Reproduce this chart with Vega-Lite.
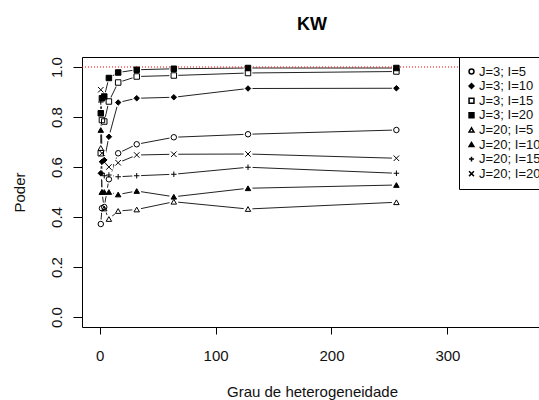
{
  "$schema": "https://vega.github.io/schema/vega-lite/v6.json",
  "autosize": "none",
  "padding": {"left": 82, "top": 57, "right": 0, "bottom": 73},
  "width": 460,
  "height": 270,
  "title": {"text": "KW", "fontSize": 18, "fontWeight": "bold", "font": "Liberation Sans", "color": "black", "anchor": "middle", "frame": "group", "baseline": "alphabetic", "offset": 9},
  "config": {
    "view": {"stroke": "black", "strokeWidth": 1},
    "font": "Liberation Sans",
    "axis": {"grid": false, "domain": false, "tickColor": "black", "labelColor": "#111", "titleColor": "#111", "labelFont": "Liberation Sans", "titleFont": "Liberation Sans", "labelFontSize": 15, "titleFontSize": 15, "titleFontWeight": "normal"}
  },
  "data": {"values": [
    {"grau": 1, "poder": 0.372, "serie": "J=3; I=5"},
    {"grau": 2, "poder": 0.435, "serie": "J=3; I=5"},
    {"grau": 4, "poder": 0.44, "serie": "J=3; I=5"},
    {"grau": 8, "poder": 0.551, "serie": "J=3; I=5"},
    {"grau": 16, "poder": 0.655, "serie": "J=3; I=5"},
    {"grau": 32, "poder": 0.691, "serie": "J=3; I=5"},
    {"grau": 64, "poder": 0.719, "serie": "J=3; I=5"},
    {"grau": 128, "poder": 0.731, "serie": "J=3; I=5"},
    {"grau": 256, "poder": 0.748, "serie": "J=3; I=5"},
    {"grau": 1, "poder": 0.575, "serie": "J=3; I=10"},
    {"grau": 2, "poder": 0.621, "serie": "J=3; I=10"},
    {"grau": 4, "poder": 0.628, "serie": "J=3; I=10"},
    {"grau": 8, "poder": 0.721, "serie": "J=3; I=10"},
    {"grau": 16, "poder": 0.858, "serie": "J=3; I=10"},
    {"grau": 32, "poder": 0.875, "serie": "J=3; I=10"},
    {"grau": 64, "poder": 0.879, "serie": "J=3; I=10"},
    {"grau": 128, "poder": 0.914, "serie": "J=3; I=10"},
    {"grau": 256, "poder": 0.915, "serie": "J=3; I=10"},
    {"grau": 1, "poder": 0.655, "serie": "J=3; I=15"},
    {"grau": 2, "poder": 0.788, "serie": "J=3; I=15"},
    {"grau": 4, "poder": 0.782, "serie": "J=3; I=15"},
    {"grau": 8, "poder": 0.862, "serie": "J=3; I=15"},
    {"grau": 16, "poder": 0.938, "serie": "J=3; I=15"},
    {"grau": 32, "poder": 0.962, "serie": "J=3; I=15"},
    {"grau": 64, "poder": 0.966, "serie": "J=3; I=15"},
    {"grau": 128, "poder": 0.976, "serie": "J=3; I=15"},
    {"grau": 256, "poder": 0.982, "serie": "J=3; I=15"},
    {"grau": 1, "poder": 0.815, "serie": "J=3; I=20"},
    {"grau": 2, "poder": 0.875, "serie": "J=3; I=20"},
    {"grau": 4, "poder": 0.882, "serie": "J=3; I=20"},
    {"grau": 8, "poder": 0.956, "serie": "J=3; I=20"},
    {"grau": 16, "poder": 0.978, "serie": "J=3; I=20"},
    {"grau": 32, "poder": 0.989, "serie": "J=3; I=20"},
    {"grau": 64, "poder": 0.993, "serie": "J=3; I=20"},
    {"grau": 128, "poder": 0.996, "serie": "J=3; I=20"},
    {"grau": 256, "poder": 0.996, "serie": "J=3; I=20"},
    {"grau": 1, "poder": 0.676, "serie": "J=20; I=5"},
    {"grau": 2, "poder": 0.5, "serie": "J=20; I=5"},
    {"grau": 4, "poder": 0.434, "serie": "J=20; I=5"},
    {"grau": 8, "poder": 0.392, "serie": "J=20; I=5"},
    {"grau": 16, "poder": 0.424, "serie": "J=20; I=5"},
    {"grau": 32, "poder": 0.43, "serie": "J=20; I=5"},
    {"grau": 64, "poder": 0.461, "serie": "J=20; I=5"},
    {"grau": 128, "poder": 0.432, "serie": "J=20; I=5"},
    {"grau": 256, "poder": 0.459, "serie": "J=20; I=5"},
    {"grau": 1, "poder": 0.748, "serie": "J=20; I=10"},
    {"grau": 2, "poder": 0.5, "serie": "J=20; I=10"},
    {"grau": 4, "poder": 0.5, "serie": "J=20; I=10"},
    {"grau": 8, "poder": 0.5, "serie": "J=20; I=10"},
    {"grau": 16, "poder": 0.49, "serie": "J=20; I=10"},
    {"grau": 32, "poder": 0.504, "serie": "J=20; I=10"},
    {"grau": 64, "poder": 0.481, "serie": "J=20; I=10"},
    {"grau": 128, "poder": 0.515, "serie": "J=20; I=10"},
    {"grau": 256, "poder": 0.528, "serie": "J=20; I=10"},
    {"grau": 1, "poder": 0.86, "serie": "J=20; I=15"},
    {"grau": 2, "poder": 0.575, "serie": "J=20; I=15"},
    {"grau": 4, "poder": 0.565, "serie": "J=20; I=15"},
    {"grau": 8, "poder": 0.568, "serie": "J=20; I=15"},
    {"grau": 16, "poder": 0.561, "serie": "J=20; I=15"},
    {"grau": 32, "poder": 0.565, "serie": "J=20; I=15"},
    {"grau": 64, "poder": 0.571, "serie": "J=20; I=15"},
    {"grau": 128, "poder": 0.599, "serie": "J=20; I=15"},
    {"grau": 256, "poder": 0.575, "serie": "J=20; I=15"},
    {"grau": 1, "poder": 0.909, "serie": "J=20; I=20"},
    {"grau": 2, "poder": 0.655, "serie": "J=20; I=20"},
    {"grau": 4, "poder": 0.62, "serie": "J=20; I=20"},
    {"grau": 8, "poder": 0.6, "serie": "J=20; I=20"},
    {"grau": 16, "poder": 0.617, "serie": "J=20; I=20"},
    {"grau": 32, "poder": 0.648, "serie": "J=20; I=20"},
    {"grau": 64, "poder": 0.651, "serie": "J=20; I=20"},
    {"grau": 128, "poder": 0.652, "serie": "J=20; I=20"},
    {"grau": 256, "poder": 0.635, "serie": "J=20; I=20"}
  ]},
  "encoding": {
    "x": {"field": "grau", "type": "quantitative", "scale": {"domain": [-15.2, 381.6], "nice": false, "zero": false},
      "axis": {"values": [0, 100, 200, 300], "tickSize": 7, "labelPadding": 14, "title": "Grau de heterogeneidade", "titlePadding": 21}},
    "y": {"field": "poder", "type": "quantitative", "scale": {"domain": [-0.04, 1.04], "nice": false, "zero": false},
      "axis": {"values": [0, 0.2, 0.4, 0.6, 0.8, 1.0], "format": ".1f", "tickSize": 9, "labelAngle": 270, "labelAlign": "center", "labelBaseline": "bottom", "labelPadding": 9, "title": "Poder", "titlePadding": 22}}
  },
  "layer": [
    {"mark": {"type": "line", "stroke": "#222", "strokeWidth": 1}, "encoding": {"detail": {"field": "serie"}}},
    {"mark": {"type": "point", "shape": "circle", "filled": true, "fill": "white", "strokeWidth": 0, "size": 80, "opacity": 1}},
    {"data": {"values": [{"h": 1}]}, "mark": {"type": "rule", "stroke": "red", "strokeWidth": 1, "strokeDash": [1, 2]}, "encoding": {"y": {"field": "h", "type": "quantitative"}, "x": null}},
    {"mark": {"type": "point", "filled": true, "stroke": "black", "strokeWidth": 1, "size": 30, "opacity": 1},
      "encoding": {
        "shape": {"field": "serie", "type": "nominal",
          "scale": {"domain": ["J=3; I=5", "J=3; I=10", "J=3; I=15", "J=3; I=20", "J=20; I=5", "J=20; I=10", "J=20; I=15", "J=20; I=20"],
                    "range": ["circle", "diamond", "square", "square", "triangle-up", "triangle-up", "M-1,0L1,0M0,-1L0,1", "M-1,-1L1,1M-1,1L1,-1"]},
          "legend": {"title": null, "orient": "none", "legendX": 377, "legendY": 0, "strokeColor": "black", "fillColor": "white", "padding": 8, "labelFontSize": 13, "labelFont": "Liberation Sans", "labelColor": "#111", "symbolSize": 24, "rowPadding": 0.6, "labelOffset": 1, "symbolOffset": -2, "cornerRadius": 0,
            "encode": {"symbols": {"update": {"stroke": {"value": "black"}, "strokeWidth": {"value": 1}}}}}},
        "fill": {"field": "serie", "type": "nominal",
          "scale": {"domain": ["J=3; I=5", "J=3; I=10", "J=3; I=15", "J=3; I=20", "J=20; I=5", "J=20; I=10", "J=20; I=15", "J=20; I=20"],
                    "range": ["transparent", "black", "transparent", "black", "transparent", "black", "transparent", "transparent"]},
          "legend": {"title": null, "orient": "none", "legendX": 377, "legendY": 0, "strokeColor": "black", "fillColor": "white", "padding": 8, "labelFontSize": 13, "labelFont": "Liberation Sans", "labelColor": "#111", "symbolSize": 24, "rowPadding": 0.6, "labelOffset": 1, "symbolOffset": -2, "cornerRadius": 0,
            "encode": {"symbols": {"update": {"stroke": {"value": "black"}, "strokeWidth": {"value": 1}}}}}}
      }}
  ]
}
